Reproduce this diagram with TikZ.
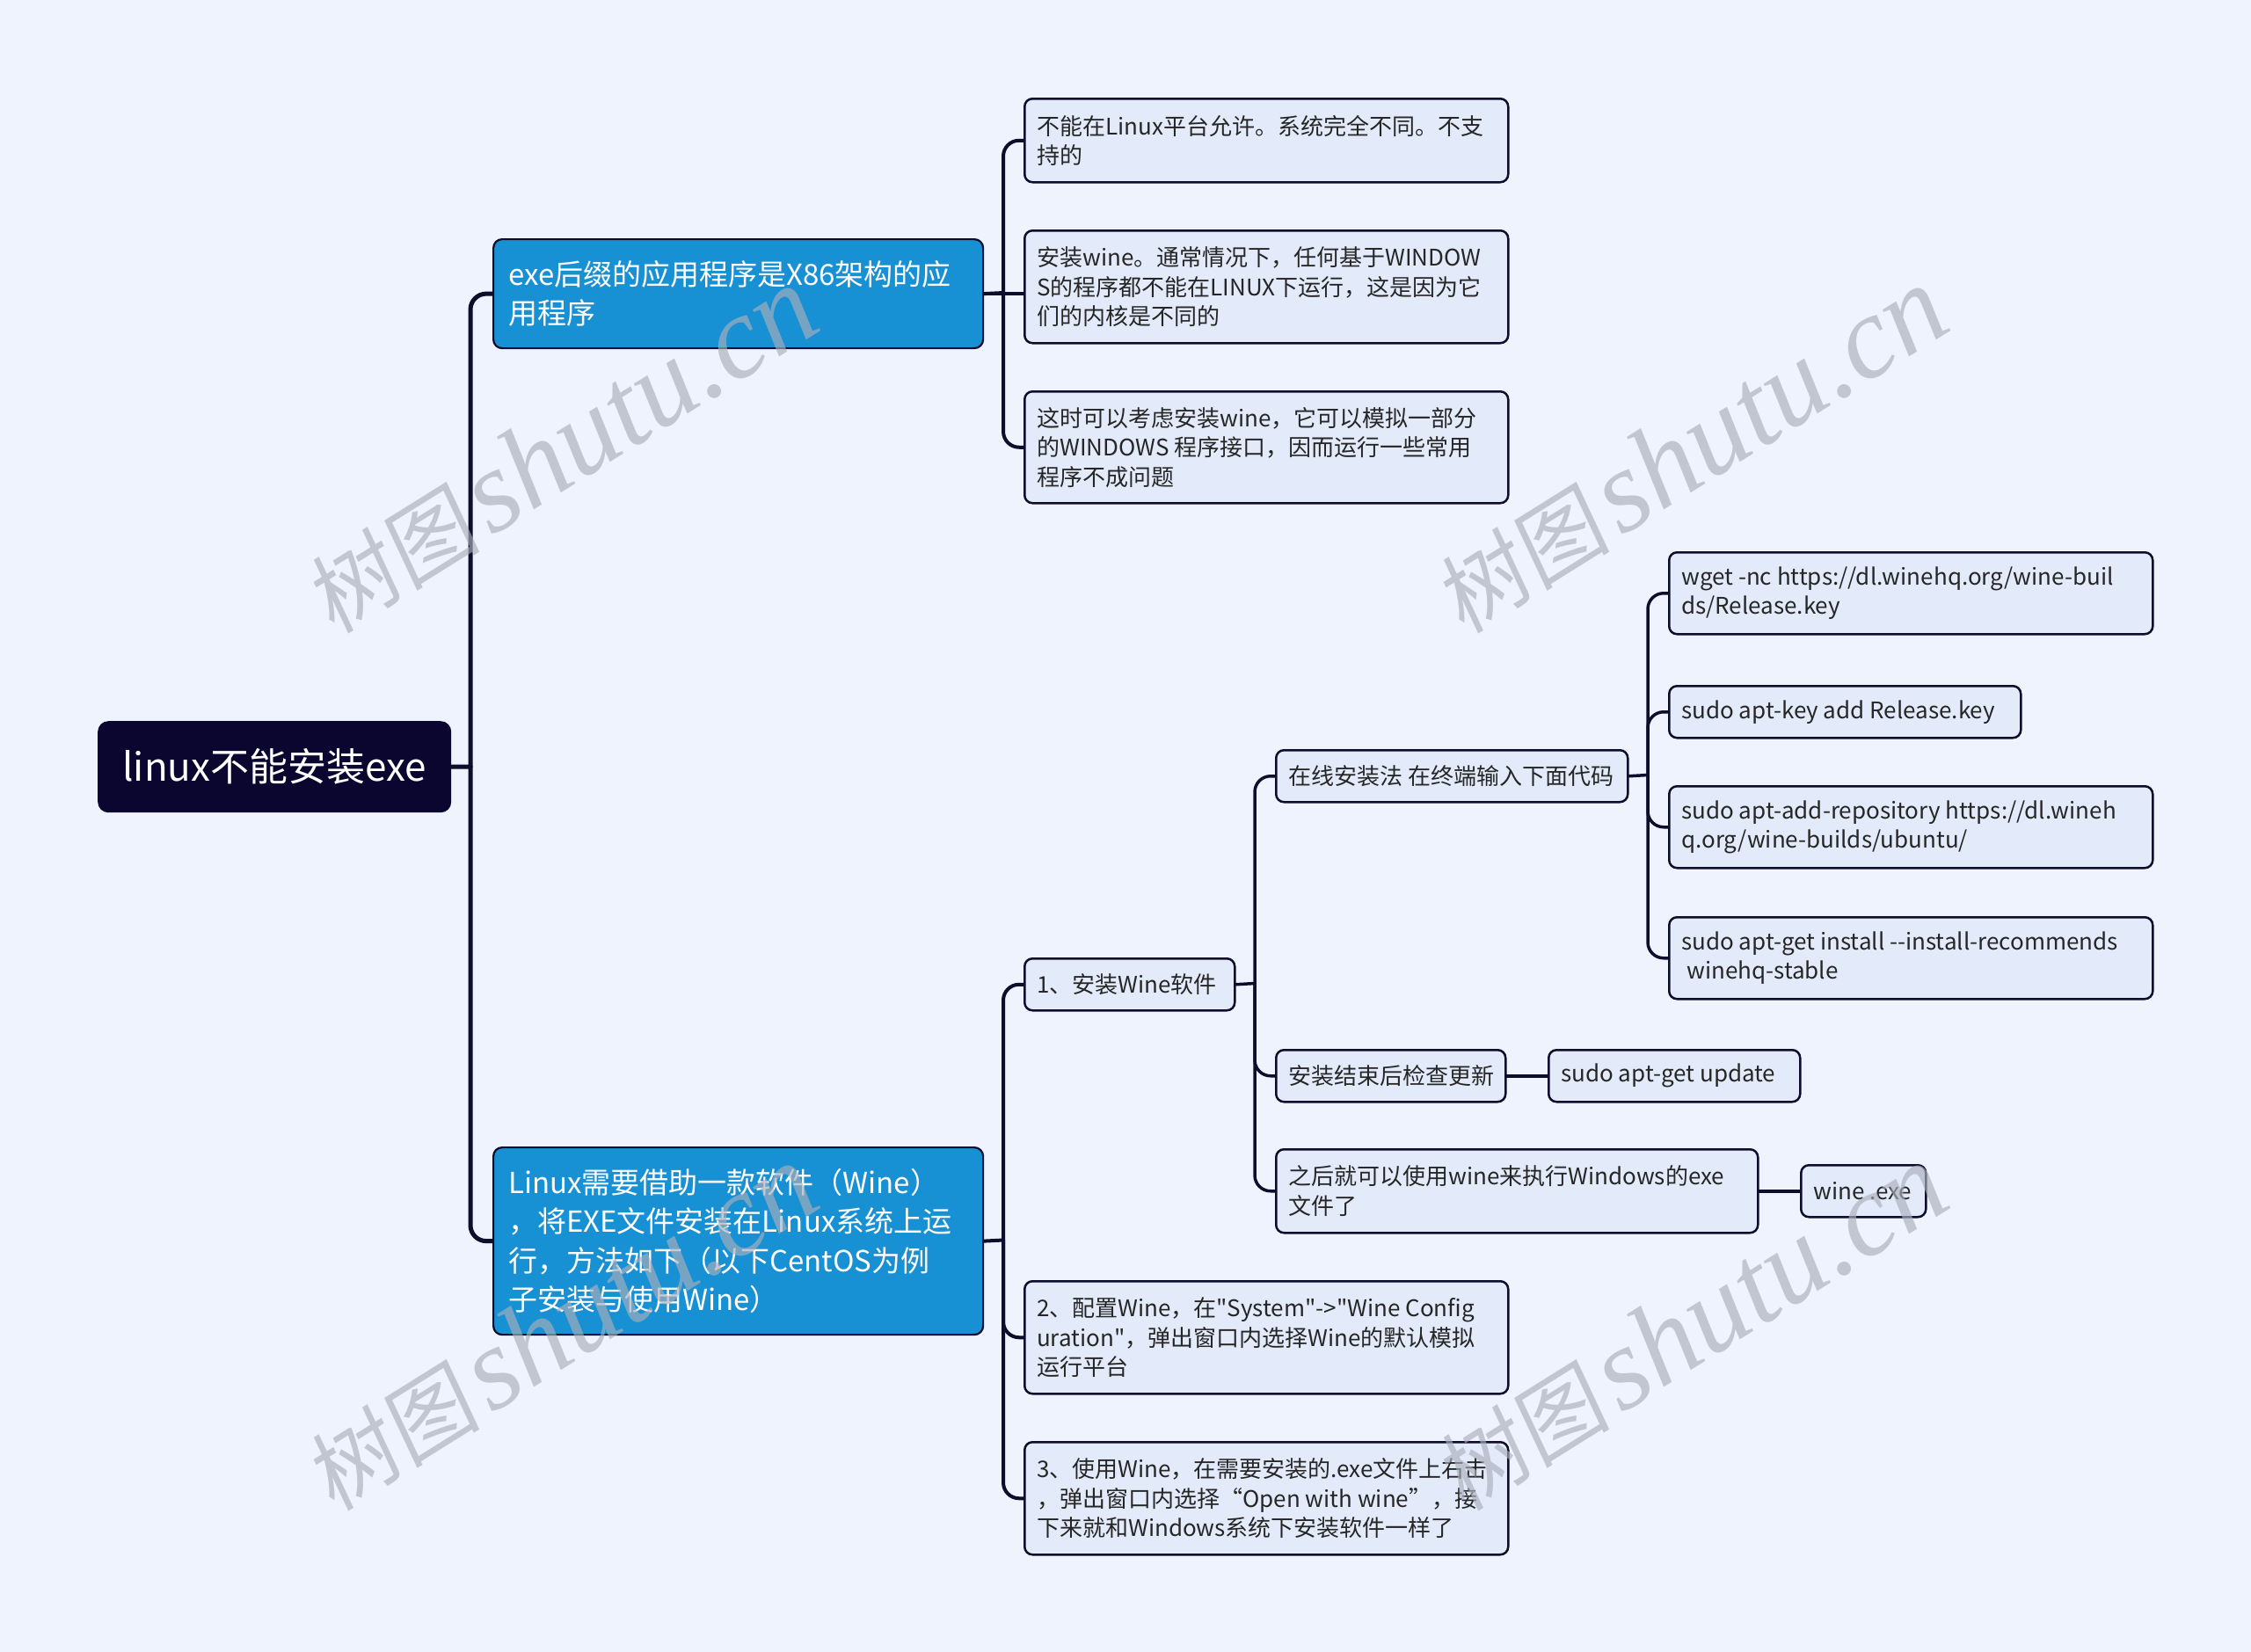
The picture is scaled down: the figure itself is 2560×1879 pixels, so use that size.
\documentclass[tikz,border=0pt]{standalone}
\usepackage{fontspec}
\setmainfont{Noto Sans CJK SC}[Ligatures=TeXOff]
\newfontfamily\wmlat{Liberation Serif}[Ligatures=TeXOff]
\newfontfamily\wmcjk{Noto Sans CJK SC}[FakeSlant=0.12]
\definecolor{bgC}{HTML}{EEF3FE}
\definecolor{rootC}{HTML}{0B0630}
\definecolor{blueC}{HTML}{1890D4}
\definecolor{leafC}{HTML}{E3EBFA}
\definecolor{lineC}{HTML}{0E0D2C}
\definecolor{txtC}{HTML}{262626}
\definecolor{wmC}{RGB}{170,175,186}
\def\padleaf{15pt}\def\padblue{18pt}
\newcommand\bx[7]{%
  \node[#6box, minimum width=#4pt, minimum height=#5pt, anchor=north west] (#1) at (#2,#3) {};
  \node[#6txt, anchor=west] (#1t) at ([xshift=\csname pad#6\endcsname]#1.west) {#7};}
\pgfdeclarelayer{bgl}\pgfdeclarelayer{connl}
\pgfsetlayers{bgl,connl,main}
\begin{document}
\begin{tikzpicture}[x=1pt,y=-1pt,
  conn/.style={draw=lineC, line width=3.5pt, rounded corners=18pt, line cap=round},
  rootbox/.style={fill=rootC, rounded corners=12pt, inner sep=0pt},
  bluebox/.style={fill=blueC, draw=lineC, line width=2.2pt, rounded corners=10pt, inner sep=0pt},
  leafbox/.style={fill=leafC, draw=lineC, line width=2.5pt, rounded corners=9pt, inner sep=0pt},
  leaftxt/.style={inner sep=0pt, align=left, text=txtC, font=\fontsize{26}{33.5}\selectfont},
  bluetxt/.style={inner sep=0pt, align=left, text=white, font=\fontsize{33}{44.5}\selectfont},
  roottxt/.style={inner sep=0pt, text=white, font=\fontsize{44}{50}\selectfont},
  wm/.style={text=wmC, opacity=0.65, inner sep=0pt}]
\begin{pgfonlayer}{bgl}
\fill[bgC] (0,0) rectangle (2560,1879);
\end{pgfonlayer}
\useasboundingbox (0,0) rectangle (2560,1879);

% boxes
\node[rootbox, minimum width=402pt, minimum height=104pt, anchor=north west] (root) at (111,820) {};
\node[roottxt] (roott) at (root.center) {linux不能安装exe};

\bx{A}{560}{271}{557}{124}{blue}{exe后缀的应用程序是X86架构的应\\用程序}
\bx{B}{560}{1304}{557}{213}{blue}{Linux需要借助一款软件（Wine）\\，将EXE文件安装在Linux系统上运\\行，方法如下（以下CentOS为例\\子安装与使用Wine）}

\bx{A1}{1164}{111}{550}{95}{leaf}{不能在Linux平台允许。系统完全不同。不支\\持的}
\bx{A2}{1164}{261}{550}{128}{leaf}{安装wine。通常情况下，任何基于WINDOW\\S的程序都不能在LINUX下运行，这是因为它\\们的内核是不同的}
\bx{A3}{1164}{444}{550}{127}{leaf}{这时可以考虑安装wine，它可以模拟一部分\\的WINDOWS 程序接口，因而运行一些常用\\程序不成问题}
\bx{B1}{1164}{1089}{239}{59}{leaf}{1、安装Wine软件}
\bx{B2}{1164}{1456}{550}{128}{leaf}{2、配置Wine，在"System"->"Wine Config\\uration"，弹出窗口内选择Wine的默认模拟\\运行平台}
\bx{B3}{1164}{1639}{550}{128}{leaf}{3、使用Wine，在需要安装的.exe文件上右击\\，弹出窗口内选择“Open with wine”，接\\下来就和Windows系统下安装软件一样了}
\bx{C1}{1450}{852}{400}{59}{leaf}{在线安装法 在终端输入下面代码}
\bx{C2}{1450}{1193}{261}{59}{leaf}{安装结束后检查更新}
\bx{C3}{1450}{1306}{548}{95}{leaf}{之后就可以使用wine来执行Windows的exe\\文件了}
\bx{D1}{1897}{627}{550}{93}{leaf}{wget -nc https://dl.winehq.org/wine-buil\\ds/Release.key}
\bx{D2}{1897}{779}{400}{59}{leaf}{sudo apt-key add Release.key}
\bx{D3}{1897}{893}{550}{93}{leaf}{sudo apt-add-repository https://dl.wineh\\q.org/wine-builds/ubuntu/}
\bx{D4}{1897}{1042}{550}{93}{leaf}{sudo apt-get install --install-recommends\\\hspace*{6pt}winehq-stable}
\bx{E}{1760}{1193}{286}{59}{leaf}{sudo apt-get update}
\bx{F}{2047}{1324}{142}{59}{leaf}{wine .exe}

\coordinate (s0) at (535,872);
\coordinate (s1) at (1141,333);
\coordinate (s2) at (1141,1410.5);
\coordinate (s3) at (1427,1118.5);
\coordinate (s4) at (1874,881.5);

\begin{pgfonlayer}{connl}
\draw[conn, line width=5pt] (root.east) -- (s0);
\draw[conn, line width=5pt] (s0) |- (A.west);
\draw[conn, line width=5pt] (s0) |- (B.west);
\draw[conn, line width=4pt] (A.east) -- (s1);
\draw[conn, line width=4pt] (B.east) -- (s2);
\draw[conn, line width=4pt] (s1) |- (A1.west);
\draw[conn, line width=4pt] (A.east) -- (A2.west |- A.east);
\draw[conn, line width=4pt] (s1) |- (A3.west);
\draw[conn, line width=4pt] (s2) |- (B1.west);
\draw[conn, line width=4pt] (s2) |- (B2.west);
\draw[conn, line width=4pt] (s2) |- (B3.west);
\draw[conn] (B1.east) -- (s3);
\draw[conn] (s3) |- (C1.west);
\draw[conn] (s3) |- (C2.west);
\draw[conn] (s3) |- (C3.west);
\draw[conn] (C1.east) -- (s4);
\draw[conn] (s4) |- (D1.west);
\draw[conn] (s4) |- (D2.west);
\draw[conn] (s4) |- (D3.west);
\draw[conn] (s4) |- (D4.west);
\draw[conn] (C2.east) -- (E.west);
\draw[conn] (C3.east) -- (F.west);
\end{pgfonlayer}

% watermarks
\foreach \wx/\wy [count=\i] in {637/512, 1922/512, 637/1510, 1922/1510}{
  \node[wm, rotate=32] (wm\i) at (\wx,\wy) {{\fontsize{100}{100}\selectfont\wmcjk 树图}\hspace{12pt}{\fontsize{133}{133}\selectfont\wmlat\itshape shutu.cn}};
}
\end{tikzpicture}
\end{document}
